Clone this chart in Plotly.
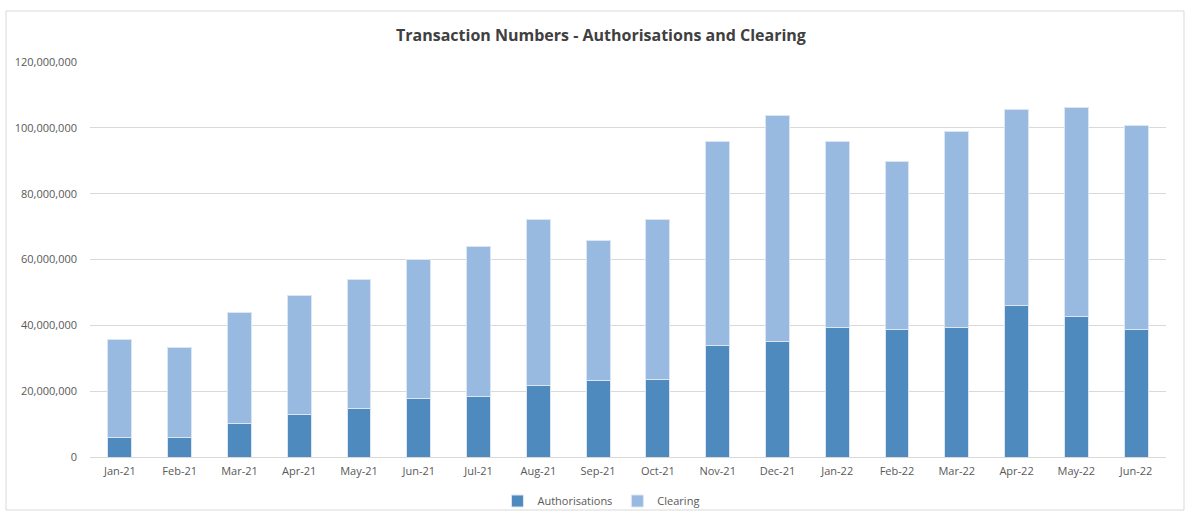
import plotly.graph_objects as go

months = ["Jan-21", "Feb-21", "Mar-21", "Apr-21", "May-21", "Jun-21", "Jul-21", "Aug-21", "Sep-21",
          "Oct-21", "Nov-21", "Dec-21", "Jan-22", "Feb-22", "Mar-22", "Apr-22", "May-22", "Jun-22"]
authorisations = [5.9e6, 5.9e6, 10.1e6, 12.8e6, 14.7e6, 17.7e6, 18.5e6, 21.6e6, 23.1e6,
                  23.4e6, 33.8e6, 35.1e6, 39.3e6, 38.6e6, 39.3e6, 45.9e6, 42.6e6, 38.6e6]
totals = [35.6e6, 33.2e6, 43.9e6, 49.2e6, 53.8e6, 59.9e6, 63.8e6, 72.1e6, 65.7e6,
          72.3e6, 95.9e6, 103.6e6, 95.9e6, 89.9e6, 98.9e6, 105.5e6, 106.3e6, 100.7e6]
clearing = [t - a for t, a in zip(totals, authorisations)]

AUTH_COLOR = "#4F8ABE"
CLEAR_COLOR = "#98B9E0"
FONT = "Open Sans"

fig = go.Figure()
fig.add_trace(go.Bar(name="Authorisations", x=months, y=authorisations,
                     marker=dict(color=AUTH_COLOR, line=dict(color="#DCE6F2", width=1))))
fig.add_trace(go.Bar(name="Clearing", x=months, y=clearing,
                     marker=dict(color=CLEAR_COLOR, line=dict(color="#DCE6F2", width=1))))

W, H = 1190, 512
L, R, T, B = 90, 24, 62, 55
pw, ph = W - L - R, H - T - B

fig.update_layout(
    width=W, height=H,
    barmode="stack", bargap=0.6,
    margin=dict(l=L, r=R, t=T, b=B, autoexpand=False),
    paper_bgcolor="white", plot_bgcolor="white",
    font=dict(family=FONT, color="#595959", size=11),
    title=dict(text="<b>Transaction Numbers - Authorisations and Clearing</b>",
               x=0.505, xref="container", xanchor="center",
               y=1 - 35 / H, yref="container", yanchor="middle",
               font=dict(family=FONT, size=16, color="#404040")),
    legend=dict(orientation="h", x=0.505, xref="container", xanchor="center",
                y=1 - 501 / H, yref="container", yanchor="middle",
                font=dict(size=11, color="#595959"), traceorder="normal",
                itemwidth=30, bgcolor="rgba(0,0,0,0)"),
    yaxis=dict(range=[0, 120e6], dtick=20e6, tickformat=",", showgrid=True,
               gridcolor="#D9D9D9", gridwidth=1, zeroline=False, showline=False,
               ticks="", ticklen=0, ticklabelstandoff=12, fixedrange=True,
               automargin=False, tickfont=dict(color="#595959")),
    xaxis=dict(showline=True, linecolor="#D9D9D9", linewidth=1, ticks="",
               showgrid=False, fixedrange=True, automargin=False,
               ticklabelstandoff=4, tickfont=dict(color="#595959")),
    shapes=[dict(type="rect", xref="paper", yref="paper",
                 x0=(6 - L) / pw, x1=(1184 - L) / pw,
                 y0=(H - B - 510) / ph, y1=(H - B - 11) / ph,
                 line=dict(color="#D9D9D9", width=1), fillcolor="rgba(0,0,0,0)", layer="below")],
)

fig.write_html("out.html", config={"displayModeBar": False},
               post_script="document.body.style.margin='0';document.body.style.overflow='hidden';")
